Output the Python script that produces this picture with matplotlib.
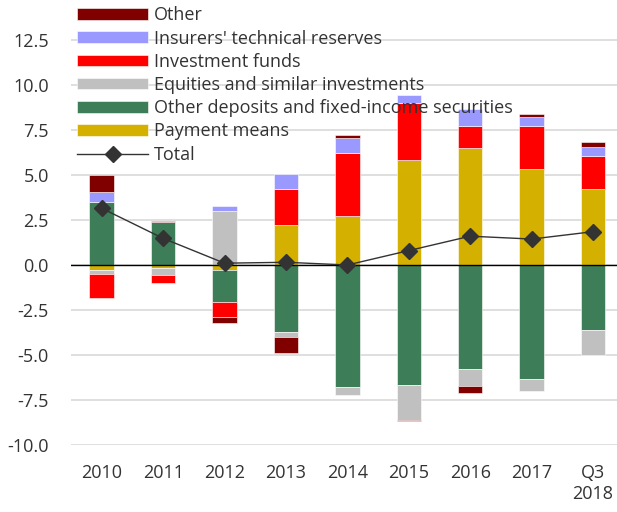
import numpy as np
import matplotlib.pyplot as plt

# Daten
years = ['2010', '2011', '2012', '2013', '2014', '2015', '2016', '2017', 'Q3\n2018']
payment_means = [-0.26, -0.17, -0.26, 2.20, 2.70, 5.83, 6.52, 5.31, 4.24]
other_deposits = [3.52, 2.41, -1.81, -3.72, -6.78, -6.67, -5.80, -6.33, -3.61]
equities = [-0.22, -0.40, 3.02, -0.26, -0.44, -1.94, -0.92, -0.65, -1.37]
investment_funds = [-1.37, -0.41, -0.83, 2.02, 3.54, 3.15, 1.22, 2.41, 1.82]
insurers = [0.54, 0.0, 0.28, 0.82, 0.83, 0.45, 0.91, 0.50, 0.51]
other = [0.94, 0.05, -0.30, -0.92, 0.13, -0.04, -0.37, 0.19, 0.24]
total = [3.15, 1.48, 0.10, 0.15, 0.0, 0.80, 1.60, 1.44, 1.85]

series = [
    ('Payment means', payment_means, '#d4b000'),
    ('Other deposits and fixed-income securities', other_deposits, '#3d7d58'),
    ('Equities and similar investments', equities, '#c0c0c0'),
    ('Investment funds', investment_funds, '#ff0000'),
    ("Insurers' technical reserves", insurers, '#9999ff'),
    ('Other', other, '#800000'),
]

plt.rcParams['font.family'] = ['Open Sans', 'DejaVu Sans']
text_color = '#333333'

fig = plt.figure(figsize=(6.17, 5.12), dpi=100)
ax = fig.add_axes([71 / 617, 67 / 512, 546 / 617, 445 / 512])

x = np.arange(len(years))
pos_bottom = np.zeros(len(years))
neg_bottom = np.zeros(len(years))
handles = {}
for name, vals, col in series:
    v = np.array(vals)
    bottom = np.where(v >= 0, pos_bottom, neg_bottom)
    h = ax.bar(x, v, width=0.4, bottom=bottom, color=col, label=name,
               edgecolor='white', linewidth=0.4, zorder=2)
    handles[name] = h
    pos_bottom += np.where(v >= 0, v, 0)
    neg_bottom += np.where(v < 0, v, 0)

ax.axhline(0, color='black', linewidth=1, zorder=3)
line, = ax.plot(x, total, color='#333333', linewidth=1, marker='D',
                markersize=8, label='Total', zorder=4)

ax.set_xlim(-0.5, 8.39)
ax.set_ylim(-10, 14.72)
ax.set_yticks(np.arange(-10, 12.6, 2.5))
ax.set_yticklabels([f'{t:.1f}' for t in np.arange(-10, 12.6, 2.5)])
ax.set_xticks(x)
ax.set_xticklabels(years)
ax.yaxis.grid(True, color='#d9d9d9', linewidth=1.2, zorder=0)
ax.set_axisbelow(True)
for s in ax.spines.values():
    s.set_visible(False)
ax.tick_params(axis='both', length=0, labelsize=13, colors=text_color)
ax.tick_params(axis='y', pad=16)
ax.tick_params(axis='x', pad=14)

order = ['Other', "Insurers' technical reserves", 'Investment funds',
         'Equities and similar investments',
         'Other deposits and fixed-income securities', 'Payment means']
leg_handles = [handles[n] for n in order] + [line]
leg_labels = order + ['Total']
fig.legend(leg_handles, leg_labels, loc='upper left',
           bbox_to_anchor=(68 / 617, 1.006), frameon=False, fontsize=13,
           handlelength=3.9, handleheight=0.6, handletextpad=0.35,
           labelspacing=0.29, borderpad=0.02, labelcolor=text_color)

fig.savefig('out.png', dpi=100)
